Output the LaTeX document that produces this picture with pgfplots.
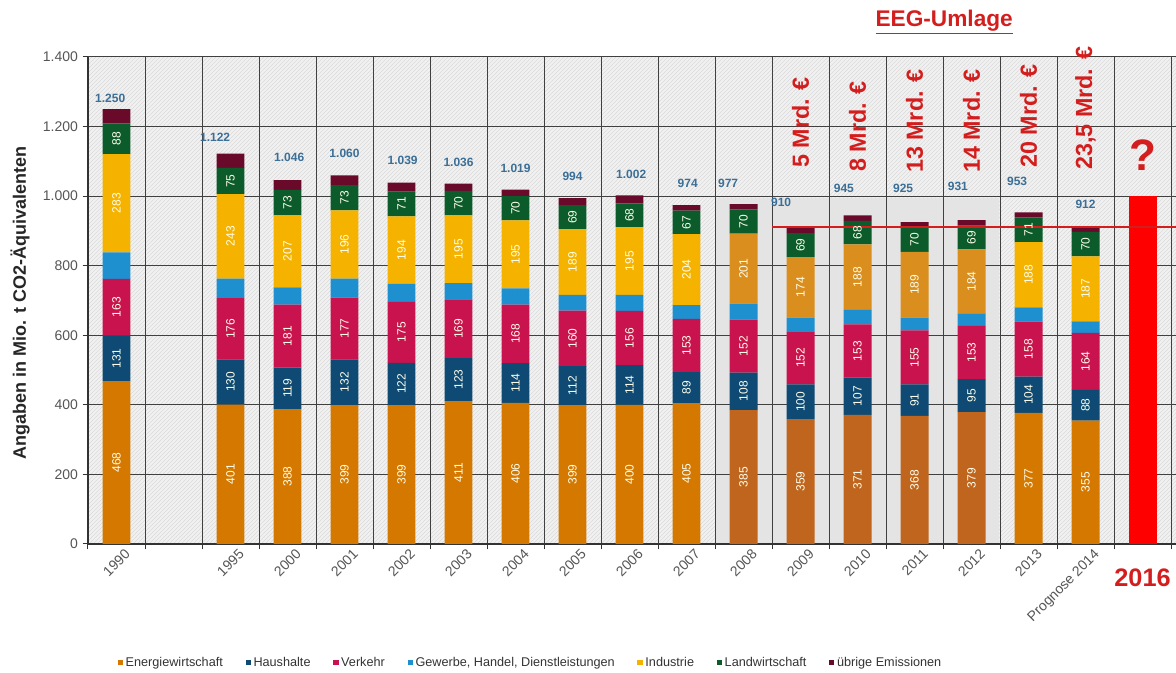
\documentclass[border=0pt]{standalone}
\usepackage{fontspec}
\setmainfont{Liberation Sans}
\usepackage{pgfplots}
\pgfplotsset{compat=1.18}
\usepackage{pgfplotstable}
\usetikzlibrary{patterns}
\definecolor{cE}{HTML}{D57800}
\definecolor{cEb}{HTML}{C0651E}
\definecolor{cH}{HTML}{0E4A73}
\definecolor{cV}{HTML}{C9134E}
\definecolor{cG}{HTML}{1E90D0}
\definecolor{cI}{HTML}{F5B300}
\definecolor{cIb}{HTML}{D98E1E}
\definecolor{cL}{HTML}{0B5C2A}
\definecolor{cU}{HTML}{6A0A2A}
\definecolor{cBar}{HTML}{FF0000}
\definecolor{cRed}{HTML}{D41E1E}
\definecolor{cT}{HTML}{3B6F97}
\definecolor{bgfill}{HTML}{F1F1F1}
\definecolor{bghatch}{HTML}{DADADA}
\definecolor{boxfill}{HTML}{E4E4E4}
\definecolor{txt}{HTML}{555555}

\pgfplotstableread{
x  E   H   V   G  I   L  U  hl R
0  468 131 163 76 283 88 41 0  0
2  401 130 176 56 243 75 41 0  0
3  388 119 181 50 207 73 28 0  0
4  399 132 177 55 196 73 28 0  0
5  399 122 175 52 194 71 26 0  0
6  411 123 169 47 195 70 21 0  0
7  406 114 168 47 195 70 19 0  0
8  399 112 160 45 189 69 20 0  0
9  400 114 156 46 195 68 23 0  0
10 405 89  153 40 204 67 16 0  0
11 385 108 152 46 201 70 15 1  0
12 359 100 152 40 174 69 16 1  0
13 371 107 153 42 188 68 16 1  0
14 368 91  155 37 189 70 15 1  0
15 379 95  153 36 184 69 15 1  0
16 377 104 158 41 188 71 14 0  0
17 355 88  164 33 187 70 15 0  0
18 0   0   0   0  0   0  0  0  1000
}\emissions

\pgfplotstableread{
lx    ly   T
-0.11 1282 1250
1.73  1170 1122
3.03  1112 1046
4.0   1124 1060
5.02  1104 1039
6.0   1098 1036
7.0   1081 1019
8.0   1058 994
9.03  1064 1002
10.02 1038 974
10.73 1038 977
11.66 983  910
12.76 1021 945
13.8  1021 925
14.76 1029 931
15.8  1041 953
17.0  977  912
}\totals

\begin{document}
\begin{tikzpicture}
\path[use as bounding box] (-66pt,-96.75pt) rectangle (816pt,408pt);
\pgfplotsset{base/.style={at={(0,0)}, anchor=south west, width=816pt, height=365.25pt,
  scale only axis, xmin=-0.5, xmax=18.587, ymin=0, ymax=1400, clip=false}}

% background
\begin{axis}[base, hide axis]
\fill[bgfill] (rel axis cs:0,0) rectangle (rel axis cs:1,1);
\fill[pattern=north east lines, pattern color=bghatch] (rel axis cs:0,0) rectangle (rel axis cs:1,1);
\fill[boxfill] (axis cs:10.52,0) rectangle (axis cs:15.48,995);
\end{axis}

% bars
\begin{axis}[base,
  axis lines*=left,
  axis line style={black!80, line width=0.8pt},
  ybar stacked, bar width=0.49,
  xtick={-0.5,0.5,...,18.5},
  xticklabels={},
  extra x ticks={0,2,3,4,5,6,7,8,9,10,11,12,13,14,15,16,17},
  extra x tick labels={1990,1995,2000,2001,2002,2003,2004,2005,2006,2007,2008,2009,2010,2011,2012,2013,Prognose 2014},
  extra x tick style={grid=none, major tick length=0pt},
  xticklabel style={rotate=45, anchor=north east, font=\fontsize{10.5}{10.5}\selectfont, text=txt, xshift=3pt, yshift=-5pt, inner sep=1pt},
  ytick={0,200,...,1400},
  yticklabel style={font=\fontsize{10.5}{10.5}\selectfont, text=txt},
  grid=major,
  major grid style={black!75, line width=0.75pt},
  tick align=outside,
  major tick length=4pt,
  tick style={black!80, line width=0.75pt},
  /pgf/number format/1000 sep={.},
  /pgf/number format/assume math mode=true,
  legend style={at={(0.407,-0.244)}, anchor=center, draw=none, fill=none,
    legend columns=-1, font=\fontsize{9.5}{10}\selectfont, text=black!80,
    /tikz/every even column/.append style={column sep=15pt}},
  legend image code/.code={\fill[#1] (0pt,-2pt) rectangle (4pt,2pt);},
]
\addplot[fill=cE, draw=none] table[x=x, y expr={(1-\thisrow{hl})*\thisrow{E}}] {\emissions};
\addlegendentry{Energiewirtschaft}
\addplot[fill=cEb, draw=none, forget plot] table[x=x, y expr={\thisrow{hl}*\thisrow{E}}] {\emissions};
\addplot[fill=cH, draw=none] table[x=x, y=H] {\emissions};
\addlegendentry{Haushalte}
\addplot[fill=cV, draw=none] table[x=x, y=V] {\emissions};
\addlegendentry{Verkehr}
\addplot[fill=cG, draw=none] table[x=x, y=G] {\emissions};
\addlegendentry{Gewerbe, Handel, Dienstleistungen}
\addplot[fill=cI, draw=none] table[x=x, y expr={(1-\thisrow{hl})*\thisrow{I}}] {\emissions};
\addlegendentry{Industrie}
\addplot[fill=cIb, draw=none, forget plot] table[x=x, y expr={\thisrow{hl}*\thisrow{I}}] {\emissions};
\addplot[fill=cL, draw=none] table[x=x, y=L] {\emissions};
\addlegendentry{Landwirtschaft}
\addplot[fill=cU, draw=none] table[x=x, y=U] {\emissions};
\addlegendentry{übrige Emissionen}
\addplot[fill=cBar, draw=none, forget plot] table[x=x, y=R] {\emissions};
\end{axis}

% labels
\begin{axis}[base, hide axis, /pgf/number format/1000 sep={.},
  /pgf/number format/assume math mode=true,
  seglab/.style={only marks, mark=*, mark size=0pt, mark options={draw=none, fill=none},
    point meta=explicit, nodes near coords,
    nodes near coords style={font=\fontsize{9}{9}\selectfont, text=white!92!yellow, rotate=90, anchor=center},
    skip coords between index={17}{18}}]
\addplot[seglab] table[x=x, y expr={\thisrow{E}/2}, meta=E] {\emissions};
\addplot[seglab] table[x=x, y expr={\thisrow{E}+\thisrow{H}/2}, meta=H] {\emissions};
\addplot[seglab] table[x=x, y expr={\thisrow{E}+\thisrow{H}+\thisrow{V}/2}, meta=V] {\emissions};
\addplot[seglab] table[x=x, y expr={\thisrow{E}+\thisrow{H}+\thisrow{V}+\thisrow{G}+\thisrow{I}/2}, meta=I] {\emissions};
\addplot[seglab] table[x=x, y expr={\thisrow{E}+\thisrow{H}+\thisrow{V}+\thisrow{G}+\thisrow{I}+\thisrow{L}/2}, meta=L] {\emissions};
\addplot[only marks, mark=*, mark size=0pt, mark options={draw=none, fill=none},
  point meta=explicit, nodes near coords,
  nodes near coords style={font=\bfseries\fontsize{9}{9}\selectfont, text=cT, anchor=center}]
  table[x=lx, y=ly, meta=T] {\totals};
\addplot[cRed, line width=1.5pt] coordinates {(11.5,910) (18.587,910)};
\tikzset{mrd/.style={rotate=90, anchor=west, inner sep=0pt, text=cRed, font=\bfseries\fontsize{17.5}{17.5}\selectfont}}
\node[mrd] at (axis cs:12,1081) {5 Mrd. €};
\node[mrd] at (axis cs:13,1069) {8 Mrd. €};
\node[mrd] at (axis cs:14,1066) {13 Mrd. €};
\node[mrd] at (axis cs:15,1066) {14 Mrd. €};
\node[mrd] at (axis cs:16,1081) {20 Mrd. €};
\node[mrd] at (axis cs:17,1075) {23,5 Mrd. €};
\node[text=cRed, font=\bfseries\fontsize{33}{33}\selectfont] at (axis cs:18,1118) {?};
\node[text=cRed, font=\bfseries\fontsize{19}{19}\selectfont] at (axis cs:18,-98) {2016};
\node[text=cRed, font=\bfseries\fontsize{17}{17}\selectfont] at (axis cs:14.52,1500) {\underline{EEG-Umlage}};
\end{axis}
\node[rotate=90, font=\bfseries\fontsize{13.5}{15}\selectfont, text=black!85] at (-51pt,180.75pt) {Angaben in Mio. t CO2-Äquivalenten};
\end{tikzpicture}
\end{document}
